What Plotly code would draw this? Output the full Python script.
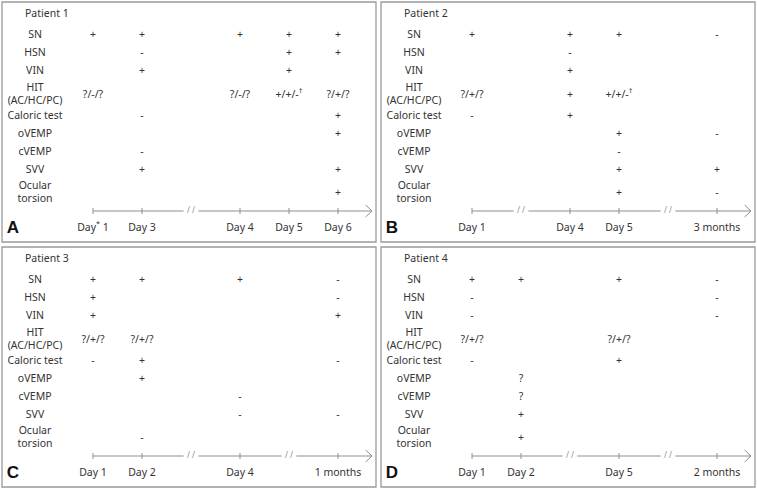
import plotly.graph_objects as go

# ---------------- data ----------------
tests = ["SN", "HSN", "VIN", "HIT<br>(AC/HC/PC)", "Caloric test",
         "oVEMP", "cVEMP", "SVV", "Ocular<br>torsion"]

patients = ["Patient 1", "Patient 2", "Patient 3", "Patient 4"]
panel_letters = ["A", "B", "C", "D"]

# timelines ("//" marks a break in the time axis)
p1_timeline = ["Day<sup>*</sup> 1", "Day 3", "//", "Day 4", "Day 5", "Day 6"]
p2_timeline = ["Day 1", "//", "Day 4", "Day 5", "//", "3 months"]
p3_timeline = ["Day 1", "Day 2", "//", "Day 4", "//", "1 months"]
p4_timeline = ["Day 1", "Day 2", "//", "Day 5", "//", "2 months"]

# findings: one list per test, one entry per visit day
p1_results = [
    ["+", "+", "+", "+", "+"],
    ["", "-", "", "+", "+"],
    ["", "+", "", "+", ""],
    ["?/-/?", "", "?/-/?", "+/+/-<sup>†</sup>", "?/+/?"],
    ["", "-", "", "", "+"],
    ["", "", "", "", "+"],
    ["", "-", "", "", ""],
    ["", "+", "", "", "+"],
    ["", "", "", "", "+"],
]
p2_results = [
    ["+", "+", "+", "-"],
    ["", "-", "", ""],
    ["", "+", "", ""],
    ["?/+/?", "+", "+/+/-<sup>†</sup>", ""],
    ["-", "+", "", ""],
    ["", "", "+", "-"],
    ["", "", "-", ""],
    ["", "", "+", "+"],
    ["", "", "+", "-"],
]
p3_results = [
    ["+", "+", "+", "-"],
    ["+", "", "", "-"],
    ["+", "", "", "+"],
    ["?/+/?", "?/+/?", "", ""],
    ["-", "+", "", "-"],
    ["", "+", "", ""],
    ["", "", "-", ""],
    ["", "", "-", "-"],
    ["", "-", "", ""],
]
p4_results = [
    ["+", "+", "+", "-"],
    ["-", "", "", "-"],
    ["-", "", "", "-"],
    ["?/+/?", "", "?/+/?", ""],
    ["-", "", "+", ""],
    ["", "?", "", ""],
    ["", "?", "", ""],
    ["", "+", "", ""],
    ["", "+", "", ""],
]

timelines = [p1_timeline, p2_timeline, p3_timeline, p4_timeline]
results = [p1_results, p2_results, p3_results, p4_results]

# ---------------- layout constants ----------------
W, H = 757, 490
boxes = [(2, 2, 376, 242), (381, 2, 755, 242), (2, 247, 376, 487), (381, 247, 755, 487)]
SLOT_PX = 49.0          # pixel spacing between timeline slots
SLOT0_OFF = 91.0        # offset of slot 0 from panel left edge
row_y = [33, 51, 69, 93, 114, 132, 150, 168, 191]   # px from panel top
title_y = 12
timeline_y = 209
daylabel_y = 226
label_off = 33          # px offset of test-label column centre
title_off = 23
letter_off = 11
arrow_off = 370

TXT = dict(family="Noto Sans", size=10.5, color="#333333")
LINE = "#8f8f8f"


def px2slot(off):
    return (off - SLOT0_OFF) / SLOT_PX


fig = go.Figure()
layout_axes = {}

for i, (x0, y0, x1, y1) in enumerate(boxes):
    n = "" if i == 0 else str(i + 1)
    xa, ya = "x" + n, "y" + n
    pw, ph = x1 - x0, y1 - y0
    layout_axes["xaxis" + n] = dict(domain=[x0 / W, x1 / W],
                                    range=[px2slot(0), px2slot(pw)],
                                    visible=False, fixedrange=True,
                                    anchor=ya)
    layout_axes["yaxis" + n] = dict(domain=[1 - y1 / H, 1 - y0 / H],
                                    range=[ph, 0], visible=False,
                                    fixedrange=True, anchor=xa)

    tl = timelines[i]
    day_slots = [k for k, t in enumerate(tl) if t != "//"]
    break_slots = [k for k, t in enumerate(tl) if t == "//"]

    # test labels
    fig.add_trace(go.Scatter(x=[px2slot(label_off)] * len(tests), y=row_y,
                             text=tests, mode="text", textfont=dict(TXT),
                             textposition="middle center", xaxis=xa, yaxis=ya,
                             hoverinfo="skip", showlegend=False))
    # patient title
    fig.add_trace(go.Scatter(x=[px2slot(title_off)], y=[title_y],
                             text=[patients[i]], mode="text", textfont=dict(TXT),
                             textposition="middle right", xaxis=xa, yaxis=ya,
                             hoverinfo="skip", showlegend=False))
    # findings
    xs, ys, ts = [], [], []
    for r, row in enumerate(results[i]):
        for c, v in enumerate(row):
            if v:
                xs.append(day_slots[c]); ys.append(row_y[r]); ts.append(v)
    fig.add_trace(go.Scatter(x=xs, y=ys, text=ts, mode="text", textfont=dict(TXT),
                             textposition="middle center", xaxis=xa, yaxis=ya,
                             hoverinfo="skip", showlegend=False))
    # day labels
    fig.add_trace(go.Scatter(x=day_slots, y=[daylabel_y] * len(day_slots),
                             text=[tl[k] for k in day_slots], mode="text",
                             textfont=dict(TXT), textposition="middle center",
                             xaxis=xa, yaxis=ya, hoverinfo="skip",
                             showlegend=False))
    # timeline line with gaps at breaks
    end = px2slot(arrow_off)
    gap = 0.15
    lx, ly = [0], [timeline_y]
    for b in break_slots:
        lx += [b - gap, None, b + gap]
        ly += [timeline_y, None, timeline_y]
    lx.append(end); ly.append(timeline_y)
    # arrowhead
    lx += [None, end - 0.13, end, end - 0.13]
    ly += [None, timeline_y - 6, timeline_y, timeline_y + 6]
    # ticks
    for k in day_slots:
        lx += [None, k, k]
        ly += [None, timeline_y - 3, timeline_y + 3]
    fig.add_trace(go.Scatter(x=lx, y=ly, mode="lines",
                             line=dict(color=LINE, width=1), xaxis=xa, yaxis=ya,
                             hoverinfo="skip", showlegend=False))
    # break marks
    fig.add_trace(go.Scatter(x=break_slots, y=[timeline_y] * len(break_slots),
                             text=["/ /"] * len(break_slots), mode="text",
                             textfont=dict(family="Noto Sans", size=8, color=LINE),
                             textposition="middle center", xaxis=xa, yaxis=ya,
                             hoverinfo="skip", showlegend=False))
    # panel letter
    fig.add_trace(go.Scatter(x=[px2slot(letter_off)], y=[daylabel_y + 1],
                             text=["<b>" + panel_letters[i] + "</b>"], mode="text",
                             textfont=dict(family="Liberation Sans", size=17, color="#111111"),
                             textposition="middle center", xaxis=xa, yaxis=ya,
                             hoverinfo="skip", showlegend=False))
    # panel border
    fig.add_shape(type="rect", xref="paper", yref="paper",
                  x0=x0 / W, x1=x1 / W, y0=1 - y1 / H, y1=1 - y0 / H,
                  line=dict(color="#9a9a9a", width=1.3))

fig.update_layout(width=W, height=H, margin=dict(l=0, r=0, t=0, b=0),
                  paper_bgcolor="white", plot_bgcolor="white",
                  showlegend=False, **layout_axes)

fig.write_html("out.html", config={"displayModeBar": False},
               post_script="document.body.style.margin='0px';"
                           "document.body.style.overflow='hidden';")
